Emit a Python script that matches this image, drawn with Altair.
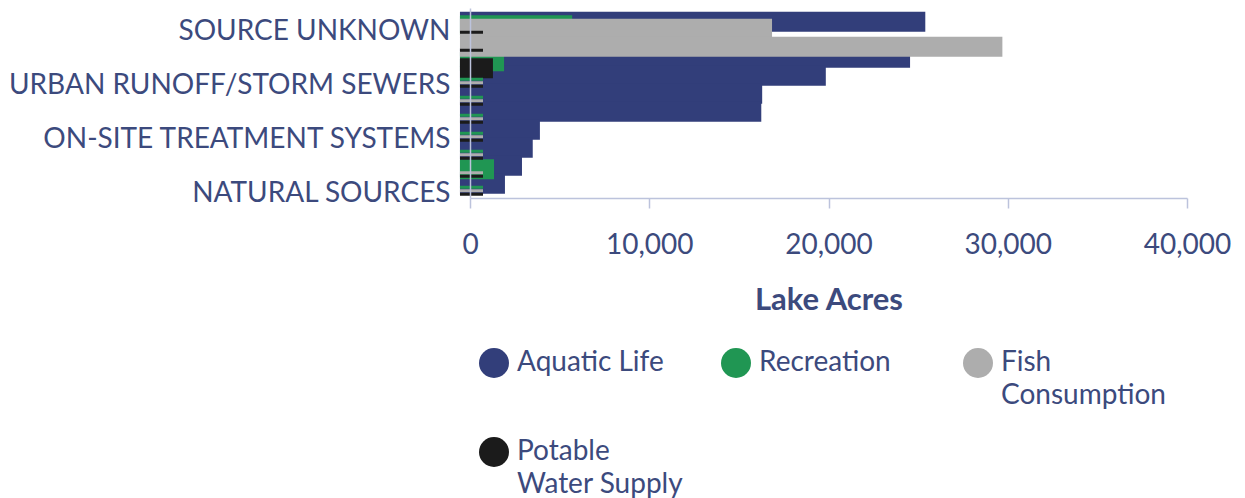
import altair as alt
import pandas as pd

# ---- data ----
SOURCES = [
    "SOURCE UNKNOWN",
    "ATMOSPHERIC DEPOSITION - TOXICS",
    "AGRICULTURE",
    "URBAN RUNOFF/STORM SEWERS",
    "INDUSTRIAL POINT SOURCE DISCHARGE",
    "MUNICIPAL POINT SOURCE DISCHARGES",
    "ON-SITE TREATMENT SYSTEMS",
    "HABITAT MODIFICATION",
    "INTERNAL NUTRIENT RECYCLING",
    "NATURAL SOURCES",
]
SHOWN_LABELS = [
    "SOURCE UNKNOWN",
    "URBAN RUNOFF/STORM SEWERS",
    "ON-SITE TREATMENT SYSTEMS",
    "NATURAL SOURCES",
]
USES = ["Aquatic Life", "Recreation", "Fish Consumption", "Potable Water Supply"]
COLORS = ["#323e7a", "#209653", "#adadad", "#1b1b1b"]

AQUATIC_LIFE = [25400, 0, 24550, 19850, 16300, 16250, 3900, 3500, 2900, 1950]
RECREATION = [5700, 0, 1900, 725, 725, 725, 725, 725, 1340, 725]
FISH_CONSUMPTION = [16850, 29700, 0, 725, 725, 725, 725, 725, 725, 725]
POTABLE_WATER = [725, 725, 1280, 725, 725, 725, 725, 725, 725, 725]

X_TICKS = [0, 10000, 20000, 30000, 40000]
X_MAX = 40000
BAR_BASE = -560  # bars in the reference begin a little left of the zero line

SERIES = [AQUATIC_LIFE, RECREATION, FISH_CONSUMPTION, POTABLE_WATER]

# series-by-series order (each series drawn over the previous one)
rows = []
for use, vals in zip(USES, SERIES):
    for src, v in zip(SOURCES, vals):
        rows.append({"source": src, "use": use, "acres": v})
df = pd.DataFrame(rows)

TEXT = "#3c4a7d"
AXIS_LINE = "#bcc3dc"
FONT = "Lato"

label_expr = (
    "indexof(" + str(SHOWN_LABELS).replace('"', "'") + ", datum.label) >= 0 ? datum.label : ''"
)
legend_expr = (
    "datum.label == 'Fish Consumption' ? ['Fish', 'Consumption'] : "
    "datum.label == 'Potable Water Supply' ? ['Potable', 'Water Supply'] : [datum.label, '']"
)

y_enc = alt.Y(
    "source:N",
    sort=SOURCES,
    scale=alt.Scale(paddingInner=0, paddingOuter=0.278, align=1),
    axis=alt.Axis(
        title=None,
        labelExpr=label_expr,
        labelFont=FONT,
        labelFontSize=28,
        labelColor=TEXT,
        labelPadding=20,
        labelOffset=5,
        ticks=False,
        tickSize=0,
        domainColor=AXIS_LINE,
        domainWidth=1.5,
        minExtent=462,
        maxExtent=462,
        zindex=1,
        labelLimit=600,
    ),
)
yoff_enc = alt.YOffset(
    "use:N", sort=USES, scale=alt.Scale(paddingInner=0, paddingOuter=0.571)
)
x_enc = alt.X(
    "acres:Q",
    stack=None,
    scale=alt.Scale(domain=[0, X_MAX], nice=False),
    axis=alt.Axis(
        values=X_TICKS,
        format=",d",
        title="Lake Acres",
        titleFont=FONT,
        titleFontSize=31,
        titleFontWeight="bold",
        titleColor=TEXT,
        titlePadding=26,
        labelFont=FONT,
        labelFontSize=28,
        labelColor=TEXT,
        labelPadding=23,
        tickSize=10,
        tickColor=AXIS_LINE,
        tickWidth=1.5,
        domainColor=AXIS_LINE,
        domainWidth=1.5,
        grid=False,
        labelFlush=False,
    ),
)
color_enc = alt.Color(
    "use:N",
    sort=USES,
    scale=alt.Scale(domain=USES, range=COLORS),
    legend=alt.Legend(
        title=None,
        orient="none",
        legendX=9,
        legendY=340,
        direction="horizontal",
        columns=3,
        symbolType="circle",
        symbolSize=900,
        symbolStrokeWidth=0,
        labelFont=FONT,
        labelFontSize=28,
        labelColor=TEXT,
        labelOffset=8,
        labelLimit=300,
        labelExpr=legend_expr,
        gridAlign="all",
        columnPadding=37,
        rowPadding=27,
        padding=0,
    ),
)

base = alt.Chart(df)

big = (
    base.mark_bar(height=20)
    .encode(x=x_enc, x2=alt.datum(BAR_BASE), y=y_enc, yOffset=yoff_enc, color=color_enc)
    .transform_filter("datum.acres >= 1000")
)
thin = (
    base.mark_bar(height=3)
    .encode(x=x_enc, x2=alt.datum(BAR_BASE), y=y_enc, yOffset=yoff_enc, color=color_enc)
    .transform_filter("datum.acres > 0 && datum.acres < 1000")
)

chart = (
    alt.layer(big, thin)
    .properties(width=717, height=190, padding={"left": 0, "top": 0, "right": 0, "bottom": 0})
    .configure(
        font=FONT,
        view=alt.ViewConfig(stroke=None),
        style={"guide-label": {"lineHeight": 33}},
    )
)

chart.save("out.html", embed_options={"renderer": "svg", "actions": False})
